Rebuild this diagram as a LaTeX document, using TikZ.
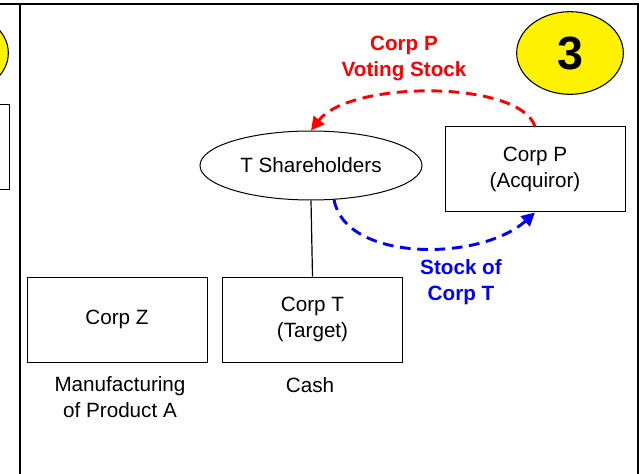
\documentclass[tikz,border=0pt]{standalone}
\usepackage{fontspec}
\setmainfont{Liberation Sans}
\usetikzlibrary{arrows.meta,shapes.geometric}

\tikzset{
  corp/.style={draw, line width=0.75pt, minimum width=135pt, minimum height=63.75pt,
    inner sep=0pt, align=center},
  holders/.style={draw, ellipse, line width=0.75pt, minimum width=166.5pt,
    minimum height=51.75pt, inner sep=0pt},
  stepnum/.style={draw, ellipse, fill=yellow, line width=0.8pt, minimum width=80pt,
    minimum height=62pt, inner sep=0pt, font=\fontsize{35}{40}\selectfont\bfseries},
  flowlab/.style={align=center, font=\fontsize{15.5}{19.5}\selectfont\bfseries},
  flow/.style={line width=2.2pt, dash pattern=on 8pt off 5pt,
    -{Triangle[length=10pt,width=10pt]}}
}

\begin{document}
\begin{tikzpicture}[x=0.75pt, y=-0.75pt,
  every node/.style={font=\fontsize{15.5}{19.5}\selectfont}]

  \clip (0,0) rectangle (639,474);

  \node (prevnum) [stepnum] at (-45,53) {};
  \node (prevbox) [corp] at (-81,147.5) {};

  \draw [line width=1.5pt] (0,4) -- (639,4);
  \draw [line width=1.5pt] (20,4) -- (20,474);
  \draw [line width=1.5pt] (637.5,4) -- (637.5,474);

  \node (num) [stepnum] at (570,53) {3};

  \node (Sh) [holders] at (311,165.5) {T Shareholders};
  \node (P) [corp] at (535,169.5) {Corp P\\(Acquiror)};
  \node (Z) [corp] at (117,319.5) {Corp Z};
  \node (T) [corp] at (312.5,319.5) {Corp T\\(Target)};

  \node (Zlab) [align=center] at (120,397) {Manufacturing\\of Product A};
  \node (Tlab) at (310,385) {Cash};

  \node (votelab) [flowlab, text=red] at (404,58) {Corp P\\Voting Stock};
  \node (stocklab) [flowlab, text=blue] at (461,282) {Stock of\\Corp T};

  \draw [line width=0.9pt] (Sh.south) -- (T.north);
  \draw [flow, red] (P.north) .. controls (520,80) and (350,80) .. (Sh.north);
  \draw [flow, blue] (Sh.-56) .. controls (345,262) and (480,262) .. (P.south);

\end{tikzpicture}
\end{document}
